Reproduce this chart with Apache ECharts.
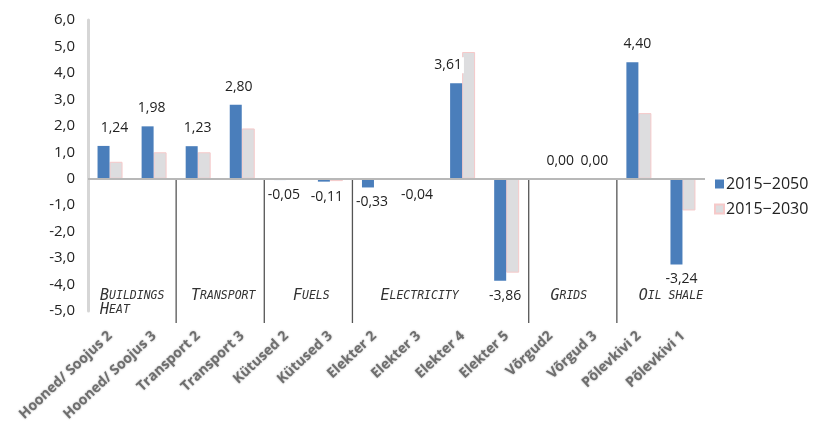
<!DOCTYPE html>
<html>
<head>
<meta charset="utf-8">
<script src="https://cdn.jsdelivr.net/npm/echarts@6/dist/echarts.min.js"></script>
<style>
  html, body { margin: 0; padding: 0; background: #fff; }
  #chart { width: 822px; height: 425px; }
</style>
</head>
<body>
<div id="chart"></div>
<script>
// Measures, grouped by sector
const categories = [
  'Hooned/ Soojus 2', 'Hooned/ Soojus 3', 'Transport 2', 'Transport 3',
  'Kütused 2', 'Kütused 3', 'Elekter 2', 'Elekter 3', 'Elekter 4', 'Elekter 5',
  'Võrgud2', 'Võrgud 3', 'Põlevkivi 2', 'Põlevkivi 1'
];
const values2050 = [1.24, 1.98, 1.23, 2.80, -0.05, -0.11, -0.33, -0.04, 3.61, -3.86, 0.00, 0.00, 4.40, -3.24];
const values2030 = [0.64, 1.00, 1.00, 1.90, -0.03, -0.09, 0.00, -0.02, 4.79, -3.55, 0.00, 0.00, 2.48, -1.20];
const seriesNames = ['2015−2050', '2015−2030'];

// Sector groups: name and number of measures in each
const groupNames = ['Buildings\nHeat', 'Transport', 'Fuels', 'Electricity', 'Grids', 'Oil shale'];
const groupSizes = [2, 2, 2, 4, 2, 2];

const yTicks = { min: -5, max: 6, interval: 1 };

// Horizontal nudges for the value labels and sector titles (px)
const labelShift = [11, 4, 6, 3, 4, 3, 4, 5, -8, 5, 16, 6, 5, 5];
const groupShift = [null, 3, 3, -21, -4, 10];

const chart = echarts.init(document.getElementById('chart'));

const fmtTick = v => (v === 0 ? '0' : v.toFixed(1).replace('.', ','));
const fmtVal = v => v.toFixed(2).replace('.', ',');

const blue = '#4a7ebb';
const grey = '#dddddf';

chart.setOption({
  animation: false,
  textStyle: { fontFamily: 'Open Sans' },
  grid: { left: 88, right: 117, top: 20, bottom: 114, containLabel: false },
  legend: {
    orient: 'vertical',
    left: 709,
    top: 171,
    itemWidth: 9,
    itemHeight: 9,
    itemGap: 9,
    textStyle: { fontSize: 16, color: '#222', fontFamily: 'Open Sans', padding: [0, 0, 0, -3] },
    data: [
      { name: seriesNames[0], icon: 'rect' },
      { name: seriesNames[1], icon: 'rect' }
    ]
  },
  xAxis: {
    type: 'category',
    data: categories,
    axisLine: { show: false, onZero: false },
    axisTick: { show: false },
    axisLabel: {
      interval: 0,
      rotate: 43,
      margin: 23,
      fontSize: 14,
      fontWeight: 'bold',
      color: '#6e6e6e',
      textShadowColor: 'rgba(0,0,0,0.35)',
      textShadowBlur: 2
    },
    splitLine: { show: false }
  },
  yAxis: {
    type: 'value',
    min: yTicks.min,
    max: yTicks.max,
    interval: yTicks.interval,
    axisLine: { show: true, lineStyle: { color: '#d6d6d6', width: 3 } },
    axisTick: { show: false },
    splitLine: { show: false },
    axisLabel: { formatter: fmtTick, fontSize: 15, color: '#222', margin: 13 }
  },
  series: [
    {
      name: seriesNames[0],
      type: 'bar',
      barWidth: 12,
      barGap: '8%',
      itemStyle: { color: blue },
      data: values2050.map((v, i) => ({
        value: v,
        label: {
          show: true,
          position: v < 0 ? 'bottom' : 'top',
          distance: v < 0 ? 7 : 10,
          offset: [labelShift[i], 0],
          formatter: p => fmtVal(p.value),
          fontSize: 14,
          color: '#222',
          backgroundColor: '#fff',
          padding: [1, 2]
        }
      })),
      markLine: {
        silent: true,
        symbol: 'none',
        label: { show: false },
        lineStyle: { color: '#b8b8b8', width: 2, type: 'solid' },
        data: [{ yAxis: 0 }]
      },
      z: 3
    },
    {
      name: seriesNames[1],
      type: 'bar',
      barWidth: 13,
      barGap: '0%',
      itemStyle: { color: grey, borderColor: '#f6c9c9', borderWidth: 1 },
      data: values2030,
      z: 2
    }
  ]
});

// Sector separators and titles, placed on category boundaries
function drawGroups() {
  const elements = [];
  const zeroY = chart.convertToPixel({ yAxisIndex: 0 }, 0);
  const bottomY = chart.convertToPixel({ yAxisIndex: 0 }, yTicks.min) + 12;
  const left = chart.convertToPixel({ xAxisIndex: 0 }, categories[0]);
  const step = chart.convertToPixel({ xAxisIndex: 0 }, categories[1]) - left;
  const edge = idx => left - step / 2 + idx * step;

  let start = 0;
  groupSizes.forEach((size, g) => {
    const end = start + size;
    if (g > 0) {
      elements.push({
        type: 'line',
        silent: true,
        shape: { x1: edge(start), y1: zeroY, x2: edge(start), y2: bottomY },
        style: { stroke: '#555', lineWidth: 1.3 }
      });
    }
    const rich = groupNames[g].split('\n').map(line =>
      line.split('').map(ch => {
        if (ch === ' ') return '{s| }';
        return ch === ch.toUpperCase() ? '{b|' + ch + '}' : '{s|' + ch.toUpperCase() + '}';
      }).join('')
    ).join('\n');
    const shift = groupShift[g];
    const x = shift === null ? edge(start) + 12 : (edge(start) + edge(end)) / 2 + shift;
    elements.push({
      type: 'text',
      silent: true,
      x: x,
      y: 289,
      style: {
        text: rich,
        align: shift === null ? 'left' : 'center',
        verticalAlign: 'top',
        fill: '#333',
        lineHeight: 14,
        rich: {
          b: { fontFamily: 'DejaVu Sans Mono', fontStyle: 'italic', fontSize: 15, fill: '#333', lineHeight: 14 },
          s: { fontFamily: 'DejaVu Sans Mono', fontStyle: 'italic', fontSize: 11.5, fill: '#333', lineHeight: 14 }
        }
      }
    });
    start = end;
  });
  chart.setOption({ graphic: elements });
}
drawGroups();
</script>
</body>
</html>
